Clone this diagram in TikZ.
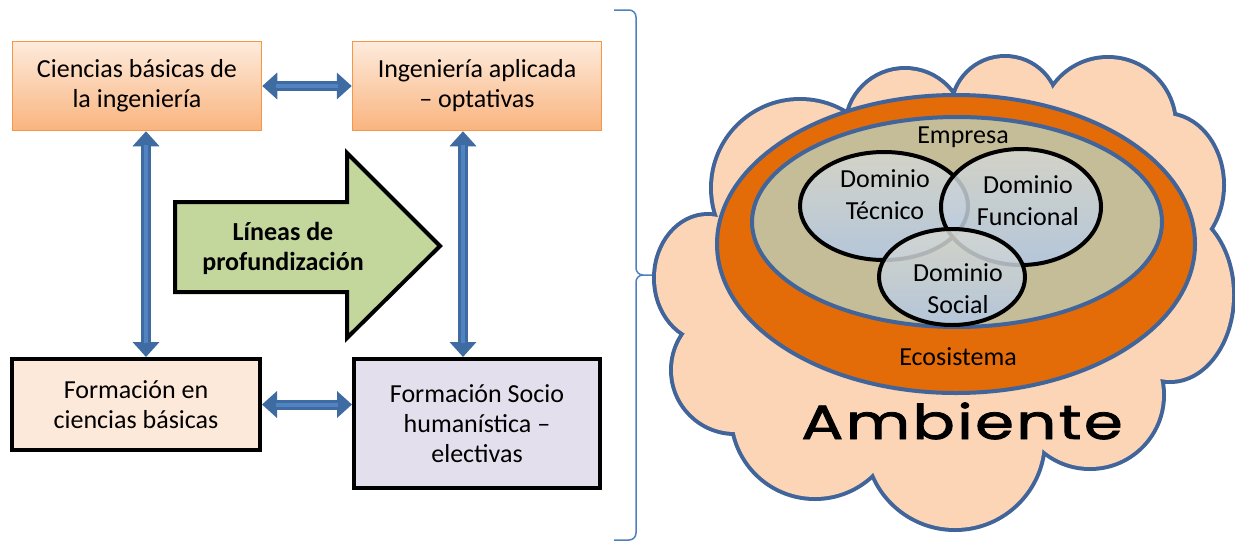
\documentclass[tikz,border=0pt]{standalone}
\usepackage{fontspec}
\usepackage{graphicx}
\setmainfont{Carlito}
\newfontfamily\ambfont[LetterSpace=4,FakeBold=1.6]{Poppins}
\usepackage{tikz}
\usetikzlibrary{positioning,arrows.meta}

\definecolor{cloudfill}{HTML}{FBD5B5}
\definecolor{cloudline}{HTML}{41659A}
\definecolor{ecoorange}{HTML}{E36C09}
\definecolor{empresatan}{HTML}{C4BD97}
\definecolor{domtop}{HTML}{D6D7D0}
\definecolor{dombot}{HTML}{B2C8E6}
\definecolor{arrowgreen}{HTML}{C3D69B}
\definecolor{boxtop}{HTML}{FEEBDC}
\definecolor{boxbot}{HTML}{F9B47F}
\definecolor{boxline}{HTML}{F79646}
\definecolor{peach}{HTML}{FDE9D9}
\definecolor{lavender}{HTML}{E4DFEC}
\definecolor{linkblue}{HTML}{3F6BA3}
\definecolor{linkinner}{HTML}{5183C0}
\definecolor{bracecol}{HTML}{4F81BD}

\tikzset{
  txt/.style={font=\fontsize{26}{30}\selectfont, align=center},
  orangebox/.style={txt, draw=boxline, line width=1.5pt, top color=boxtop, bottom color=boxbot,
    minimum width=249pt, minimum height=89pt},
  blackbox/.style={txt, draw=black, line width=4pt, minimum width=248pt},
  link/.style={draw=linkblue, line width=10pt,
    {Triangle[length=15pt,width=26pt]}-{Triangle[length=15pt,width=26pt]}},
  linkcore/.style={draw=linkinner, line width=4pt, shorten <=14pt, shorten >=14pt},
  ring/.style={draw=cloudline, line width=4pt},
  domainfill/.style={top color=domtop, bottom color=dombot, fill opacity=0.85},
}

\begin{document}
\begin{tikzpicture}[x=1pt,y=-1pt]
\path[use as bounding box, fill=white] (0,0) rectangle (1235,544);

% left: study plan
\node[orangebox] (basicasing) at (137,86) {Ciencias básicas de\\la ingeniería};
\node[orangebox] (aplicada) at (477,86) {Ingeniería aplicada\\– optativas};
\node[blackbox, fill=peach, minimum height=91pt] (formbasicas) at (136,404.5) {Formación en\\ciencias básicas};
\node[blackbox, fill=lavender, minimum width=246pt, minimum height=129pt] (sociohum) at (477,423.5)
  {Formación Socio\\humanística –\\electivas};

\draw[link] (basicasing.east) -- (basicasing.east -| aplicada.west);
\draw[link] (formbasicas.east) -- (formbasicas.east -| sociohum.west);
\draw[link] ([xshift=9pt]basicasing.south) -- ([xshift=10pt]formbasicas.north);
\draw[link] ([xshift=-14pt]aplicada.south) -- ([xshift=-14pt]sociohum.north);
\draw[linkcore] (basicasing.east) -- (basicasing.east -| aplicada.west);
\draw[linkcore] (formbasicas.east) -- (formbasicas.east -| sociohum.west);
\draw[linkcore] ([xshift=9pt]basicasing.south) -- ([xshift=10pt]formbasicas.north);
\draw[linkcore] ([xshift=-14pt]aplicada.south) -- ([xshift=-14pt]sociohum.north);

% big arrow
\draw[fill=arrowgreen, line width=4pt, line join=miter]
  (175,202) -- (347,202) -- (347,153) -- (440,246) -- (347,338) -- (347,292) -- (175,292) -- cycle;
\node[txt, font=\fontsize{26}{30}\selectfont\bfseries] (lineas) at (283,248) {Líneas de\\profundización};

% brace
\coordinate (bracetop) at (614,10);
\coordinate (bracebot) at (614,540);
\coordinate (bracetip) at (659,275);
\draw[bracecol, line width=1.5pt, rounded corners=7pt]
  (bracetop) -- (636,10) -- (636,275) -- (bracetip)
  (bracebot) -- (636,540) -- (636,275) -- (bracetip);

% cloud: union of bumps
\def\bumps{708/278/52/62, 800/188/87/87, 905/128/58/58, 1005/110/52/52, 1108/125/66/66,
  1165/185/57/70, 1170/295/62/85, 1090/395/72/72, 955/440/88/88, 815/415/82/82, 735/370/62/62}
\foreach \cx/\cy/\rx/\ry in \bumps
  \draw[cloudline, line width=8pt] (\cx,\cy) ellipse [x radius=\rx, y radius=\ry];
\fill[cloudfill] (708,278) -- (800,188) -- (905,128) -- (1005,110) -- (1108,125) -- (1165,185)
  -- (1170,295) -- (1090,395) -- (955,440) -- (815,415) -- (735,370) -- cycle;
\foreach \cx/\cy/\rx/\ry in \bumps
  \fill[cloudfill] (\cx,\cy) ellipse [x radius=\rx, y radius=\ry];

% rings
\def\ecosistema{(956,244) ellipse [x radius=239, y radius=149]}
\def\empresa{(957,222) ellipse [x radius=205, y radius=105]}
\fill[ecoorange] \ecosistema;
\draw[ring] \ecosistema;
\fill[empresatan] \empresa;
\draw[ring] \empresa;

% domains
\def\tecnico{(884,206) ellipse [x radius=84, y radius=54]}
\def\funcional{(1021,207) ellipse [x radius=80, y radius=58]}
\def\social{(952,277) ellipse [x radius=73, y radius=48]}
\shade[domainfill] \tecnico;
\draw[line width=4pt] \tecnico;
\shade[domainfill] \funcional;
\draw[line width=4pt] \funcional;
\shade[domainfill] \social;
\draw[line width=4pt] \social;

\node[txt] (empresalbl) at (963,137) {Empresa};
\node[txt, font=\fontsize{26}{32}\selectfont] (tecnicolbl) at (885,195) {Dominio\\Técnico};
\node[txt, font=\fontsize{26}{32}\selectfont] (funcionallbl) at (1028,201) {Dominio\\Funcional};
\node[txt, font=\fontsize{26}{32}\selectfont] (sociallbl) at (958,289) {Dominio\\Social};
\node[txt] (ecolbl) at (958,357) {Ecosistema};

\node[anchor=base] (ambiente) at (962,439) {\ambfont\fontsize{48}{54}\selectfont\scalebox{1.3}[1]{Ambiente}};
\end{tikzpicture}
\end{document}
